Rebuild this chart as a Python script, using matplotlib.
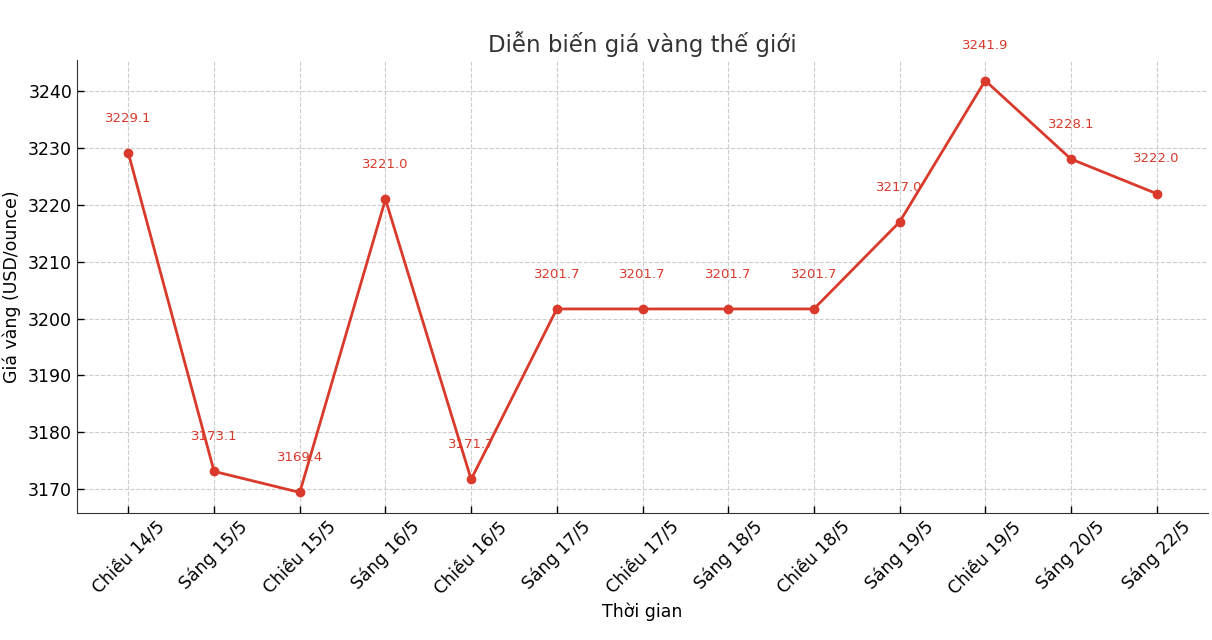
import matplotlib
matplotlib.use("Agg")
import matplotlib.pyplot as plt

labels = ["Chiều 14/5", "Sáng 15/5", "Chiều 15/5", "Sáng 16/5", "Chiều 16/5",
          "Sáng 17/5", "Chiều 17/5", "Sáng 18/5", "Chiều 18/5", "Sáng 19/5",
          "Chiều 19/5", "Sáng 20/5", "Sáng 22/5"]
prices = [3229.1, 3173.1, 3169.4, 3221.0, 3171.7, 3201.7, 3201.7, 3201.7,
          3201.7, 3217.0, 3241.9, 3228.1, 3222.0]

red = "#d93a2b"
fig, ax = plt.subplots(figsize=(12.12, 6.4), dpi=100)
x = list(range(len(labels)))
ax.plot(x, prices, color=red, marker="o", linewidth=2, markersize=6)
for xi, yi in zip(x, prices):
    ax.text(xi, yi + 5, f"{yi:.1f}", ha="center", va="bottom", fontsize=9.5, color=red)

ax.set_xticks(x)
ax.set_xticklabels(labels, rotation=45, fontsize=12.5)
ax.tick_params(axis="y", labelsize=12.5)
ax.tick_params(direction="in", length=5, width=1)
ax.set_title("Diễn biến giá vàng thế giới", fontsize=16.5, color="#333333")
ax.set_xlabel("Thời gian", fontsize=12.5)
ax.set_ylabel("Giá vàng (USD/ounce)", fontsize=12.5, labelpad=5)
ax.grid(True, linestyle="--", color="#cccccc", linewidth=0.8)
ax.spines["top"].set_visible(False)
ax.spines["right"].set_visible(False)
ax.spines["left"].set_color("#333333")
ax.spines["bottom"].set_color("#333333")
fig.subplots_adjust(left=77/1212, right=1208/1212, top=1-60/640, bottom=1-513/640)
fig.savefig("out.png", dpi=100)
